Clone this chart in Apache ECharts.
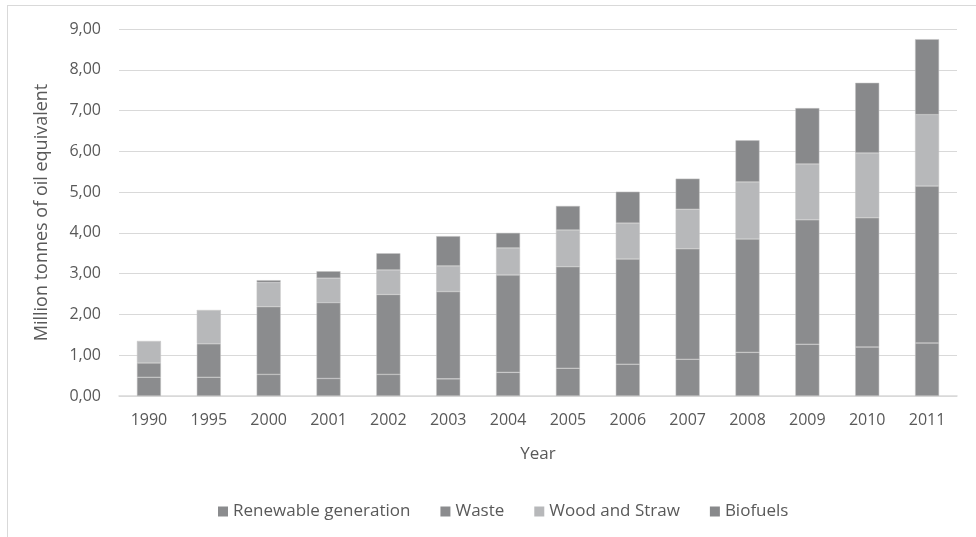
<!DOCTYPE html>
<html>
<head>
<meta charset="utf-8">
<script src="https://cdn.jsdelivr.net/npm/echarts@6/dist/echarts.min.js"></script>
<style>
html,body{margin:0;padding:0;background:#fff;}
#frame{position:absolute;left:7px;top:5px;width:980px;height:540px;border:1px solid #d9d9d9;box-sizing:border-box;}
#chart{position:absolute;left:0;top:0;width:976px;height:537px;}
</style>
</head>
<body>
<div id="frame"></div>
<div id="chart"></div>
<script>
const years = ['1990','1995','2000','2001','2002','2003','2004','2005','2006','2007','2008','2009','2010','2011'];
const renewableGeneration = [0.46,0.46,0.53,0.43,0.53,0.42,0.58,0.68,0.78,0.90,1.07,1.27,1.20,1.30];
const waste              = [0.35,0.82,1.66,1.86,1.96,2.14,2.39,2.49,2.58,2.71,2.78,3.05,3.17,3.85];
const woodAndStraw       = [0.53,0.82,0.59,0.60,0.60,0.63,0.66,0.90,0.88,0.97,1.40,1.37,1.59,1.75];
const biofuels           = [0.00,0.00,0.06,0.17,0.41,0.73,0.37,0.59,0.77,0.75,1.02,1.37,1.72,1.85];
const yTicks = [0,1,2,3,4,5,6,7,8,9];

const chart = echarts.init(document.getElementById('chart'));
const font = '"Open Sans", "Noto Sans", sans-serif';
const txt = '#595959';
function s(name, data, color){
  return {name, type:'bar', stack:'total', data, barWidth:24,
    itemStyle:{color, borderColor:'#c4c4c4', borderWidth:0.5},
    emphasis:{disabled:true}};
}
chart.setOption({
  animation:false,
  textStyle:{fontFamily:font},
  grid:{left:119, right:19, top:29, bottom:141, containLabel:false},
  legend:{
    bottom:12, left:213,
    itemWidth:10, itemHeight:10, itemGap:30, icon:'rect',
    itemStyle:{borderWidth:0},
    textStyle:{color:txt, fontSize:17, fontFamily:font},
    data:['Renewable generation','Waste','Wood and Straw','Biofuels']
  },
  xAxis:{
    type:'category', data:years,
    name:'Year', nameLocation:'middle', nameGap:50,
    nameTextStyle:{color:txt, fontSize:17, fontFamily:font},
    axisLine:{lineStyle:{color:'#d9d9d9', width:1.5}},
    axisTick:{show:false},
    axisLabel:{color:txt, fontSize:16, margin:16, fontFamily:font}
  },
  yAxis:{
    type:'value', min:yTicks[0], max:yTicks[yTicks.length-1], interval:1,
    name:'Million tonnes of oil equivalent', nameLocation:'middle', nameGap:68,
    nameTextStyle:{color:txt, fontSize:18, fontFamily:font},
    axisLine:{show:false}, axisTick:{show:false},
    axisLabel:{color:txt, fontSize:16, margin:18, fontFamily:font,
      formatter:v=>v.toFixed(2).replace('.',',')},
    splitLine:{lineStyle:{color:'#d9d9d9', width:1.2}}
  },
  series:[
    s('Renewable generation', renewableGeneration, '#8b8c8e'),
    s('Waste', waste, '#8b8c8e'),
    s('Wood and Straw', woodAndStraw, '#b7b8ba'),
    s('Biofuels', biofuels, '#88898b')
  ]
});
</script>
</body>
</html>
